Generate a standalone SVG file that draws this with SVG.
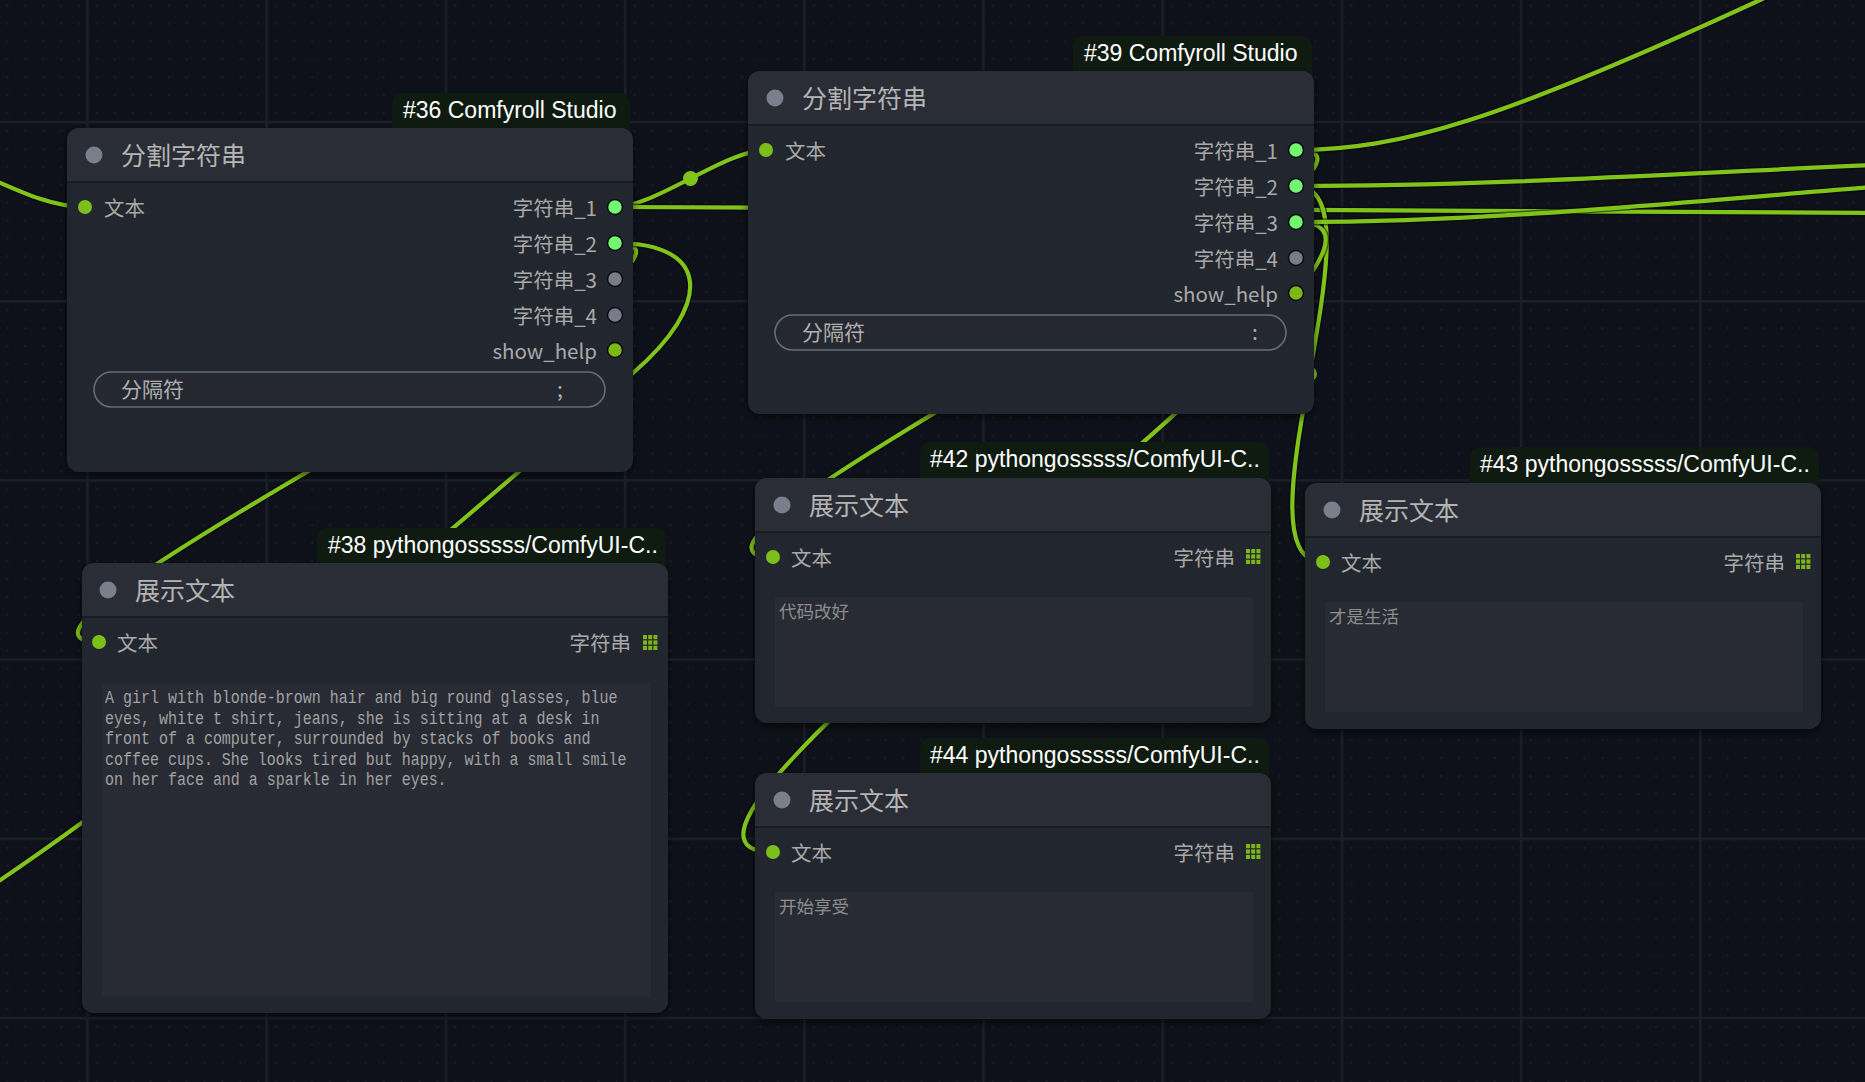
<svg xmlns="http://www.w3.org/2000/svg" xmlns:xlink="http://www.w3.org/1999/xlink" width="1865" height="1082" viewBox="0 0 1865 1082">
<defs>
<style>
.bg{fill:#0e1119}
.body{fill:#23262e}
.tbar{fill:#2a2d36}
.sep{stroke:#1a1c23;stroke-width:2}
.tdot{fill:#7b7f8c}
.title{font-family:"Noto Sans CJK SC","Noto Sans",sans-serif;font-size:25px;fill:#b4b4b4}
.lbl{font-family:"Noto Sans CJK SC","Noto Sans",sans-serif;font-size:20.5px;fill:#a9a9a9}
.badge{fill:#0f1b10}
.btxt{font-family:"Liberation Sans",Arial,sans-serif;font-size:23px;fill:#ffffff}
.indot{fill:#7cbf1b}
.og{fill:#71f771;stroke:#0b0c10;stroke-width:1.5}
.ogr{fill:#7a7a88;stroke:#0b0c10;stroke-width:1.5}
.ool{fill:#7db714;stroke:#0b0c10;stroke-width:1.5}
.wid{fill:#252830;stroke:#676b76;stroke-width:1.6}
.wtxt{font-family:"Noto Sans CJK SC","Noto Sans",sans-serif;font-size:21px;fill:#b0b0b0}
.area{fill:#282b34}
.mono{font-family:"Liberation Mono","Courier New",monospace;font-size:18px;fill:#a2a2a2}
.cjkarea{font-family:"Noto Sans CJK SC",sans-serif;font-size:17.5px;fill:#8d8d8d}
.lk{fill:none;stroke:#7fc31b;stroke-width:4.2;stroke-linecap:round}
.lkb{fill:none;stroke:#05070a;stroke-opacity:0.55;stroke-width:7}
.lkdot{fill:#7fc31b}
</style>
<pattern id="minor" patternUnits="userSpaceOnUse" x="87.5" y="122" width="17.92" height="17.92">
<rect x="8.2" y="8.46" width="2.6" height="1" fill="#1a1d27"/>
<rect x="9" y="7.7" width="1" height="2.6" fill="#1a1d27"/>
</pattern>
<pattern id="major" patternUnits="userSpaceOnUse" x="86.25" y="120.75" width="179.2" height="179.2">
<rect x="0" y="0" width="2.5" height="179.2" fill="#1c1f29"/>
<rect x="0" y="0" width="179.2" height="2.5" fill="#1c1f29"/>
</pattern>
<filter id="sh" x="-5%" y="-5%" width="110%" height="115%">
<feDropShadow dx="0" dy="3" stdDeviation="4" flood-color="#000" flood-opacity="0.6"/>
</filter>
<g id="gi" fill="#7cb518">
<rect x="0" y="0" width="4" height="4.2"/><rect x="5.2" y="0" width="4" height="4.2"/><rect x="10.4" y="0" width="4" height="4.2"/>
<rect x="0" y="5.4" width="4" height="4.2"/><rect x="5.2" y="5.4" width="4" height="4.2"/><rect x="10.4" y="5.4" width="4" height="4.2"/>
<rect x="0" y="10.8" width="4" height="4.2"/><rect x="5.2" y="10.8" width="4" height="4.2"/><rect x="10.4" y="10.8" width="4" height="4.2"/>
</g>
</defs>

<rect class="bg" x="0" y="0" width="1865" height="1082"/>
<rect x="0" y="0" width="1865" height="1082" fill="url(#minor)"/>
<rect x="0" y="0" width="1865" height="1082" fill="url(#major)"/>

<g id="connectors">
<path class="lkb" d="M-90 150 C-20 165, 30 207, 85 207"/>
<path class="lk" d="M-90 150 C-20 165, 30 207, 85 207"/>
<path class="lkb" d="M615 207 C655 207, 726 150, 766 150"/>
<path class="lk" d="M615 207 C655 207, 726 150, 766 150"/>
<circle class="lkdot" cx="690.5" cy="178.5" r="7.5"/>
<path class="lkb" d="M615 207 C1000 207, 1500 212, 1900 213"/>
<path class="lk" d="M615 207 C1000 207, 1500 212, 1900 213"/>
<path class="lkb" d="M615 243 C778 243, -64 642, 99 642"/>
<path class="lk" d="M615 243 C778 243, -64 642, 99 642"/>
<path class="lkb" d="M615 243 C712 243, 712 305, 633 373 C530 461, 220 740, -60 920"/>
<path class="lk" d="M615 243 C712 243, 712 305, 633 373 C530 461, 220 740, -60 920"/>
<path class="lkb" d="M1296 150 C1461.5 150, 607.5 557, 773 557"/>
<path class="lk" d="M1296 150 C1461.5 150, 607.5 557, 773 557"/>
<path class="lkb" d="M1296 186 C1390 186, 1229 562, 1323 562"/>
<path class="lk" d="M1296 186 C1390 186, 1229 562, 1323 562"/>
<circle class="lkdot" cx="1309.5" cy="374" r="7.5"/>
<path class="lkb" d="M1296 222 C1501 222, 568 852, 773 852"/>
<path class="lk" d="M1296 222 C1501 222, 568 852, 773 852"/>
<path class="lkb" d="M1296 150 C1400 150, 1500 120, 1760 0 L1890 -60"/>
<path class="lk" d="M1296 150 C1400 150, 1500 120, 1760 0 L1890 -60"/>
<path class="lkb" d="M1296 186 C1500 186, 1700 172, 1900 164"/>
<path class="lk" d="M1296 186 C1500 186, 1700 172, 1900 164"/>
<path class="lkb" d="M1296 222 C1500 222, 1700 200, 1900 185"/>
<path class="lk" d="M1296 222 C1500 222, 1700 200, 1900 185"/>
</g>

<g id="node-36">
<rect class="badge" x="392" y="93" width="238" height="48" rx="10"/>
<text class="btxt" x="403" y="118">#36 Comfyroll Studio</text>
<rect class="body" x="67" y="128" width="566" height="344" rx="12" filter="url(#sh)"/>
<path class="tbar" d="M67 182 V140 A12 12 0 0 1 79 128 H621 A12 12 0 0 1 633 140 V182 Z"/>
<line class="sep" x1="67" y1="182" x2="633" y2="182"/>
<circle class="tdot" cx="94" cy="155" r="8.5"/>
<text class="title" x="121" y="164.5">分割字符串</text>
<circle class="indot" cx="85" cy="207" r="7"/>
<text class="lbl" x="104" y="216">文本</text>
<text class="lbl" x="597" y="216" text-anchor="end">字符串_1</text>
<text class="lbl" x="597" y="252" text-anchor="end">字符串_2</text>
<text class="lbl" x="597" y="288" text-anchor="end">字符串_3</text>
<text class="lbl" x="597" y="324" text-anchor="end">字符串_4</text>
<text class="lbl" x="597" y="359" text-anchor="end">show_help</text>
<circle class="og" cx="615" cy="207" r="7.5"/>
<circle class="og" cx="615" cy="243" r="7.5"/>
<circle class="ogr" cx="615" cy="279" r="7.5"/>
<circle class="ogr" cx="615" cy="315" r="7.5"/>
<circle class="ool" cx="615" cy="350" r="7.5"/>
<rect class="wid" x="94" y="372" width="511" height="35" rx="17.5"/>
<text class="wtxt" x="121" y="397">分隔符</text>
<text class="wtxt" x="560" y="397" text-anchor="middle">;</text>
</g>

<g id="node-39">
<rect class="badge" x="1073" y="36" width="239" height="48" rx="10"/>
<text class="btxt" x="1084" y="61">#39 Comfyroll Studio</text>
<rect class="body" x="748" y="71" width="566" height="343" rx="12" filter="url(#sh)"/>
<path class="tbar" d="M748 125 V83 A12 12 0 0 1 760 71 H1302 A12 12 0 0 1 1314 83 V125 Z"/>
<line class="sep" x1="748" y1="125" x2="1314" y2="125"/>
<circle class="tdot" cx="775" cy="98" r="8.5"/>
<text class="title" x="802" y="107.5">分割字符串</text>
<circle class="indot" cx="766" cy="150" r="7"/>
<text class="lbl" x="785" y="159">文本</text>
<text class="lbl" x="1278" y="159" text-anchor="end">字符串_1</text>
<text class="lbl" x="1278" y="195" text-anchor="end">字符串_2</text>
<text class="lbl" x="1278" y="231" text-anchor="end">字符串_3</text>
<text class="lbl" x="1278" y="267" text-anchor="end">字符串_4</text>
<text class="lbl" x="1278" y="302" text-anchor="end">show_help</text>
<circle class="og" cx="1296" cy="150" r="7.5"/>
<circle class="og" cx="1296" cy="186" r="7.5"/>
<circle class="og" cx="1296" cy="222" r="7.5"/>
<circle class="ogr" cx="1296" cy="258" r="7.5"/>
<circle class="ool" cx="1296" cy="293" r="7.5"/>
<rect class="wid" x="775" y="315" width="511" height="35" rx="17.5"/>
<text class="wtxt" x="802" y="340">分隔符</text>
<text class="wtxt" x="1255" y="340" text-anchor="middle">:</text>
</g>

<g id="node-38">
<rect class="badge" x="317" y="528" width="349" height="48" rx="10"/>
<text class="btxt" x="328" y="553">#38 pythongosssss/ComfyUI-C..</text>
<rect class="body" x="82" y="563" width="586" height="450" rx="12" filter="url(#sh)"/>
<path class="tbar" d="M82 617 V575 A12 12 0 0 1 94 563 H656 A12 12 0 0 1 668 575 V617 Z"/>
<line class="sep" x1="82" y1="617" x2="668" y2="617"/>
<circle class="tdot" cx="108" cy="590" r="8.5"/>
<text class="title" x="135" y="599.5">展示文本</text>
<circle class="indot" cx="99" cy="642" r="7"/>
<text class="lbl" x="117" y="651">文本</text>
<text class="lbl" x="631" y="651" text-anchor="end">字符串</text>
<use xlink:href="#gi" href="#gi" x="643" y="635"/>
<rect class="area" x="102" y="683" width="549" height="314"/>
<g transform="translate(105 0) scale(0.8333 1)">
<text class="mono" x="0" y="703">A girl with blonde-brown hair and big round glasses, blue</text>
<text class="mono" x="0" y="723.6">eyes, white t shirt, jeans, she is sitting at a desk in</text>
<text class="mono" x="0" y="744.2">front of a computer, surrounded by stacks of books and</text>
<text class="mono" x="0" y="764.8">coffee cups. She looks tired but happy, with a small smile</text>
<text class="mono" x="0" y="785.4">on her face and a sparkle in her eyes.</text>
</g>
</g>

<g id="node-42">
<rect class="badge" x="920" y="442" width="349" height="48" rx="10"/>
<text class="btxt" x="930" y="467">#42 pythongosssss/ComfyUI-C..</text>
<rect class="body" x="755" y="478" width="516" height="245" rx="12" filter="url(#sh)"/>
<path class="tbar" d="M755 532 V490 A12 12 0 0 1 767 478 H1259 A12 12 0 0 1 1271 490 V532 Z"/>
<line class="sep" x1="755" y1="532" x2="1271" y2="532"/>
<circle class="tdot" cx="782" cy="505" r="8.5"/>
<text class="title" x="809" y="514.5">展示文本</text>
<circle class="indot" cx="773" cy="557" r="7"/>
<text class="lbl" x="791" y="566">文本</text>
<text class="lbl" x="1235" y="566" text-anchor="end">字符串</text>
<use xlink:href="#gi" href="#gi" x="1246" y="549"/>
<rect class="area" x="775" y="597" width="478" height="110"/>
<text class="cjkarea" x="779" y="618">代码改好</text>
</g>

<g id="node-44">
<rect class="badge" x="920" y="738" width="349" height="48" rx="10"/>
<text class="btxt" x="930" y="763">#44 pythongosssss/ComfyUI-C..</text>
<rect class="body" x="755" y="773" width="516" height="246" rx="12" filter="url(#sh)"/>
<path class="tbar" d="M755 827 V785 A12 12 0 0 1 767 773 H1259 A12 12 0 0 1 1271 785 V827 Z"/>
<line class="sep" x1="755" y1="827" x2="1271" y2="827"/>
<circle class="tdot" cx="782" cy="800" r="8.5"/>
<text class="title" x="809" y="809.5">展示文本</text>
<circle class="indot" cx="773" cy="852" r="7"/>
<text class="lbl" x="791" y="861">文本</text>
<text class="lbl" x="1235" y="861" text-anchor="end">字符串</text>
<use xlink:href="#gi" href="#gi" x="1246" y="844"/>
<rect class="area" x="775" y="892" width="478" height="110"/>
<text class="cjkarea" x="779" y="913">开始享受</text>
</g>

<g id="node-43">
<rect class="badge" x="1470" y="447" width="349" height="48" rx="10"/>
<text class="btxt" x="1480" y="472">#43 pythongosssss/ComfyUI-C..</text>
<rect class="body" x="1305" y="483" width="516" height="246" rx="12" filter="url(#sh)"/>
<path class="tbar" d="M1305 537 V495 A12 12 0 0 1 1317 483 H1809 A12 12 0 0 1 1821 495 V537 Z"/>
<line class="sep" x1="1305" y1="537" x2="1821" y2="537"/>
<circle class="tdot" cx="1332" cy="510" r="8.5"/>
<text class="title" x="1359" y="519.5">展示文本</text>
<circle class="indot" cx="1323" cy="562" r="7"/>
<text class="lbl" x="1341" y="571">文本</text>
<text class="lbl" x="1785" y="571" text-anchor="end">字符串</text>
<use xlink:href="#gi" href="#gi" x="1796" y="554"/>
<rect class="area" x="1325" y="602" width="478" height="110"/>
<text class="cjkarea" x="1329" y="623">才是生活</text>
</g>
</svg>
